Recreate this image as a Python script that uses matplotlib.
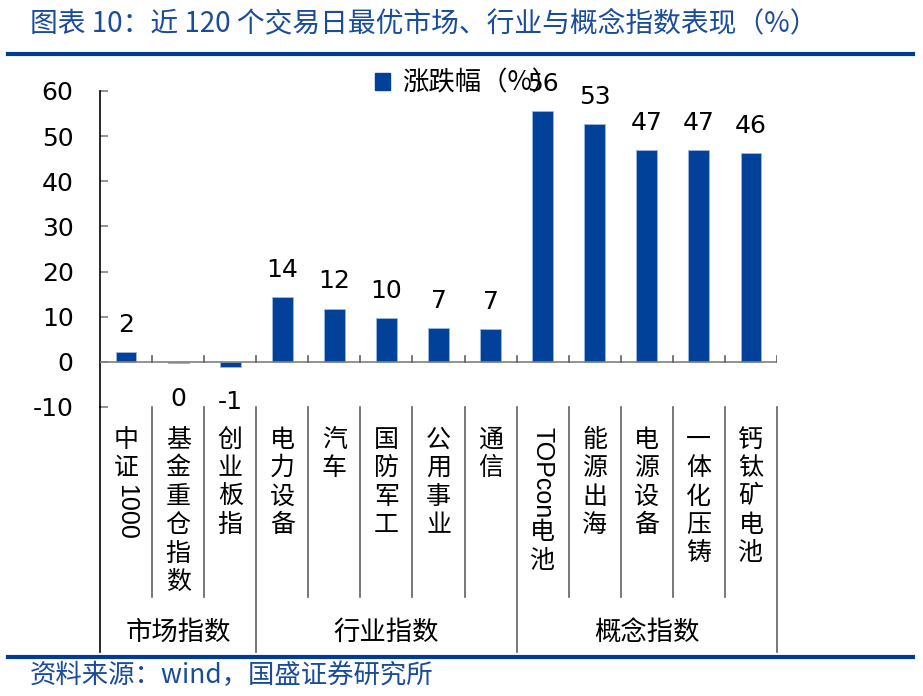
from matplotlib import pyplot as plt
from matplotlib import transforms
from matplotlib.patches import Patch
from matplotlib.lines import Line2D

plt.rcParams['font.family'] = ['Noto Sans CJK SC', 'DejaVu Sans']

# data
names = ["中证1000", "基金重仓指数", "创业板指", "电力设备", "汽车", "国防军工",
         "公用事业", "通信", "TOPcon电池", "能源出海", "电源设备", "一体化压铸", "钙钛矿电池"]
values = [2.2, -0.3, -1.1, 14.4, 11.8, 9.7, 7.4, 7.3, 55.6, 52.6, 46.9, 46.9, 46.3]
groups = ["市场指数", "行业指数", "概念指数"]
group_sizes = [3, 5, 5]
yticks = [-10, 0, 10, 20, 30, 40, 50, 60]

blue = '#02419A'
W, H = 923, 696

fig = plt.figure(figsize=(W / 100, H / 100), dpi=100)
ax = fig.add_axes([100 / W, 1 - 407 / H, 677 / W, 316 / H])

x = list(range(len(names)))
ax.bar(x, values, width=0.4, color=blue, edgecolor='#9DB8E0', linewidth=0.6, zorder=3)
ax.set_xlim(-0.5, len(names) - 0.5)
ax.set_ylim(-10, 60)
ax.set_yticks(yticks)
ax.set_yticklabels([str(t) for t in yticks], fontsize=18, family='DejaVu Sans')
ax.tick_params(axis='y', direction='in', length=6, width=1.2, color='#808080', pad=19)
ax.set_xticks([])
for s in ['top', 'right', 'bottom']:
    ax.spines[s].set_visible(False)
ax.spines['left'].set_bounds(-10, 60)
ax.spines['left'].set_linewidth(1.2)

# zero axis with upward ticks at category boundaries
ax.axhline(0, color='#808080', lw=1.2, zorder=4)
for i in range(len(names)):
    ax.plot([i + 0.5, i + 0.5], [0, 1.3], color='#606060', lw=1.2, zorder=4)

# data labels
for i, v in enumerate(values):
    lab = str(int(round(v)))
    if v > 0.5:
        ax.annotate(lab, (i, v), xytext=(0, 11), textcoords='offset points',
                    ha='center', va='bottom', fontsize=18, family='DejaVu Sans')
    else:
        ax.annotate(lab, (i, -10), xytext=(0, -3 if v > -0.5 else -5), textcoords='offset points',
                    ha='center', va='bottom', fontsize=18, family='DejaVu Sans')

# category separators below axis
tr = transforms.blended_transform_factory(ax.transData, ax.transAxes)
bounds = []
c = 0
for g in group_sizes:
    bounds.append(c)
    c += g
bounds.append(c)
for i in range(len(names) + 1):
    xb = i - 0.5
    bottom = -0.775 if i in bounds else -0.601
    ax.plot([xb, xb], [0, bottom], color='#606060' if i else 'black', lw=1.2,
            transform=tr, clip_on=False)

# vertical category labels
fig.canvas.draw()
rend = fig.canvas.get_renderer()
for i, nm in enumerate(names):
    cur = 0.0  # points down from label top
    j = 0
    while j < len(nm):
        ch = nm[j]
        if ord(ch) < 128:
            k = j
            while k < len(nm) and ord(nm[k]) < 128:
                k += 1
            run = nm[j:k]
            t = ax.annotate(run, (i, -0.062), xytext=(0, -cur), textcoords='offset points',
                            xycoords=tr, ha='center', va='top', rotation=-90,
                            fontsize=18, family='Liberation Sans', annotation_clip=False)
            bb = t.get_window_extent(rend)
            cur += bb.height * 72 / 100 + 1
            j = k
        else:
            ax.annotate(ch, (i, -0.062), xytext=(0, -cur), textcoords='offset points',
                        xycoords=tr, ha='center', va='top', fontsize=18,
                        annotation_clip=False)
            cur += 20.5
            j += 1

# group labels
start = 0
for g, n in zip(groups, group_sizes):
    mid = start + (n - 1) / 2
    ax.text(mid, -0.712, g, transform=tr, ha='center', va='center', fontsize=19)
    start += n

# legend
ax.legend(handles=[Patch(color=blue, label='涨跌幅（%）')], loc='center left',
          bbox_to_anchor=(364 / W, 1 - 83 / H), bbox_transform=fig.transFigure,
          frameon=False, fontsize=19, handlelength=0.6, handleheight=0.6,
          handletextpad=0.45, borderaxespad=0)

# title, rules, source
fig.text(30 / W, 1 - 23 / H, "图表 10：近 120 个交易日最优市场、行业与概念指数表现（%）",
         color='#1A4C9C', fontsize=20, ha='left', va='center')
fig.add_artist(Line2D([8 / W, 913 / W], [1 - 54 / H, 1 - 54 / H], color='#003C96', lw=3))
fig.add_artist(Line2D([8 / W, 913 / W], [1 - 657 / H, 1 - 657 / H], color='#003C96', lw=3))
fig.text(30 / W, 1 - 675 / H, "资料来源：wind，国盛证券研究所",
         color='#1A4C9C', fontsize=19, ha='left', va='center')

plt.savefig('out.png', dpi=100)
plt.close()
